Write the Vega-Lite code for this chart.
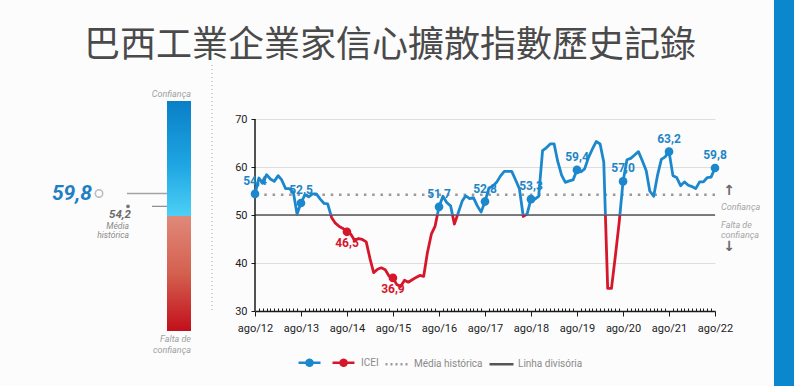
{
  "$schema": "https://vega.github.io/schema/vega-lite/v6.json",
  "background": "#fcfcfd",
  "padding": {"left": 51, "top": 0, "right": 0, "bottom": 0},
  "title": {
    "text": "巴西工業企業家信心擴散指數歷史記錄",
    "font": "Noto Sans CJK TC",
    "fontSize": 36,
    "fontWeight": "normal",
    "color": "#4a4a4a",
    "anchor": "middle",
    "frame": "group",
    "dx": 223,
    "offset": -101,
    "baseline": "bottom"
  },
  "bounds": "flush",
  "spacing": 64,
  "resolve": {"scale": {"color": "independent"}},
  "datasets": {
    "icei": [
      {"mes": "2012-08-01", "valor": 54.4}, {"mes": "2012-09-01", "valor": 57.7}, {"mes": "2012-10-01", "valor": 56.6}, {"mes": "2012-11-01", "valor": 58.4}, {"mes": "2012-12-01", "valor": 57.5},
      {"mes": "2013-01-01", "valor": 57.0}, {"mes": "2013-02-01", "valor": 58.2}, {"mes": "2013-03-01", "valor": 57.3}, {"mes": "2013-04-01", "valor": 55.5}, {"mes": "2013-05-01", "valor": 55.5}, {"mes": "2013-06-01", "valor": 54.8}, {"mes": "2013-07-01", "valor": 50.2}, {"mes": "2013-08-01", "valor": 52.5}, {"mes": "2013-09-01", "valor": 54.2}, {"mes": "2013-10-01", "valor": 53.8}, {"mes": "2013-11-01", "valor": 54.4}, {"mes": "2013-12-01", "valor": 54.4},
      {"mes": "2014-01-01", "valor": 53.3}, {"mes": "2014-02-01", "valor": 52.4}, {"mes": "2014-03-01", "valor": 52.3}, {"mes": "2014-04-01", "valor": 49.5}, {"mes": "2014-05-01", "valor": 48.3}, {"mes": "2014-06-01", "valor": 47.6}, {"mes": "2014-07-01", "valor": 47.2}, {"mes": "2014-08-01", "valor": 46.5}, {"mes": "2014-09-01", "valor": 46.0}, {"mes": "2014-10-01", "valor": 44.7}, {"mes": "2014-11-01", "valor": 45.1}, {"mes": "2014-12-01", "valor": 44.9},
      {"mes": "2015-01-01", "valor": 44.4}, {"mes": "2015-02-01", "valor": 40.8}, {"mes": "2015-03-01", "valor": 38.0}, {"mes": "2015-04-01", "valor": 38.7}, {"mes": "2015-05-01", "valor": 39.0}, {"mes": "2015-06-01", "valor": 38.6}, {"mes": "2015-07-01", "valor": 37.3}, {"mes": "2015-08-01", "valor": 36.9}, {"mes": "2015-09-01", "valor": 35.5}, {"mes": "2015-10-01", "valor": 35.1}, {"mes": "2015-11-01", "valor": 36.4}, {"mes": "2015-12-01", "valor": 36.0},
      {"mes": "2016-01-01", "valor": 36.5}, {"mes": "2016-02-01", "valor": 37.0}, {"mes": "2016-03-01", "valor": 37.4}, {"mes": "2016-04-01", "valor": 37.2}, {"mes": "2016-05-01", "valor": 42.2}, {"mes": "2016-06-01", "valor": 46.0}, {"mes": "2016-07-01", "valor": 47.7}, {"mes": "2016-08-01", "valor": 51.7}, {"mes": "2016-09-01", "valor": 53.9}, {"mes": "2016-10-01", "valor": 52.6}, {"mes": "2016-11-01", "valor": 51.9}, {"mes": "2016-12-01", "valor": 48.1},
      {"mes": "2017-01-01", "valor": 50.5}, {"mes": "2017-02-01", "valor": 52.9}, {"mes": "2017-03-01", "valor": 54.0}, {"mes": "2017-04-01", "valor": 53.4}, {"mes": "2017-05-01", "valor": 53.6}, {"mes": "2017-06-01", "valor": 51.9}, {"mes": "2017-07-01", "valor": 50.6}, {"mes": "2017-08-01", "valor": 52.8}, {"mes": "2017-09-01", "valor": 55.6}, {"mes": "2017-10-01", "valor": 56.0}, {"mes": "2017-11-01", "valor": 56.8}, {"mes": "2017-12-01", "valor": 58.1},
      {"mes": "2018-01-01", "valor": 59.1}, {"mes": "2018-02-01", "valor": 59.1}, {"mes": "2018-03-01", "valor": 59.1}, {"mes": "2018-04-01", "valor": 57.3}, {"mes": "2018-05-01", "valor": 55.5}, {"mes": "2018-06-01", "valor": 49.7}, {"mes": "2018-07-01", "valor": 50.2}, {"mes": "2018-08-01", "valor": 53.3}, {"mes": "2018-09-01", "valor": 53.3}, {"mes": "2018-10-01", "valor": 53.9}, {"mes": "2018-11-01", "valor": 63.4}, {"mes": "2018-12-01", "valor": 64.0},
      {"mes": "2019-01-01", "valor": 64.8}, {"mes": "2019-02-01", "valor": 64.8}, {"mes": "2019-03-01", "valor": 61.2}, {"mes": "2019-04-01", "valor": 58.3}, {"mes": "2019-05-01", "valor": 56.8}, {"mes": "2019-06-01", "valor": 57.1}, {"mes": "2019-07-01", "valor": 57.3}, {"mes": "2019-08-01", "valor": 59.4}, {"mes": "2019-09-01", "valor": 59.0}, {"mes": "2019-10-01", "valor": 59.6}, {"mes": "2019-11-01", "valor": 62.0}, {"mes": "2019-12-01", "valor": 63.7},
      {"mes": "2020-01-01", "valor": 65.3}, {"mes": "2020-02-01", "valor": 64.8}, {"mes": "2020-03-01", "valor": 61.0}, {"mes": "2020-04-01", "valor": 34.7}, {"mes": "2020-05-01", "valor": 34.7}, {"mes": "2020-06-01", "valor": 41.5}, {"mes": "2020-07-01", "valor": 48.4}, {"mes": "2020-08-01", "valor": 57.0}, {"mes": "2020-09-01", "valor": 61.5}, {"mes": "2020-10-01", "valor": 61.8}, {"mes": "2020-11-01", "valor": 62.5}, {"mes": "2020-12-01", "valor": 63.2},
      {"mes": "2021-01-01", "valor": 61.3}, {"mes": "2021-02-01", "valor": 59.2}, {"mes": "2021-03-01", "valor": 55.0}, {"mes": "2021-04-01", "valor": 53.9}, {"mes": "2021-05-01", "valor": 58.2}, {"mes": "2021-06-01", "valor": 61.6}, {"mes": "2021-07-01", "valor": 62.1}, {"mes": "2021-08-01", "valor": 63.2}, {"mes": "2021-09-01", "valor": 58.2}, {"mes": "2021-10-01", "valor": 57.8}, {"mes": "2021-11-01", "valor": 56.1}, {"mes": "2021-12-01", "valor": 56.9},
      {"mes": "2022-01-01", "valor": 56.2}, {"mes": "2022-02-01", "valor": 55.9}, {"mes": "2022-03-01", "valor": 55.5}, {"mes": "2022-04-01", "valor": 56.9}, {"mes": "2022-05-01", "valor": 56.9}, {"mes": "2022-06-01", "valor": 57.8}, {"mes": "2022-07-01", "valor": 57.9}, {"mes": "2022-08-01", "valor": 59.8}
    ],
    "marcadores": [
      {"indicador": "ICEI ago/22", "valor": 59.8},
      {"indicador": "Média histórica", "valor": 54.2}
    ],
    "faixas": [
      {"faixa": "Confiança", "de": 50, "ate": 100},
      {"faixa": "Falta de confiança", "de": 0, "ate": 50}
    ]
  },
  "hconcat": [
    {
      "width": 24,
      "height": 230,
      "layer": [
        {
          "data": {"name": "marcadores"},
          "transform": [{"filter": "datum.indicador === 'ICEI ago/22'"}],
          "mark": {"type": "rule", "color": "#a3a3a3", "strokeWidth": 1.5, "xOffset": -64},
          "encoding": {"y": {"field": "valor", "type": "quantitative", "scale": {"domain": [0, 100], "nice": false}, "axis": null}}
        },
        {
          "data": {"name": "marcadores"},
          "transform": [{"filter": "datum.indicador === 'Média histórica'"}],
          "mark": {"type": "rule", "color": "#8a8a8a", "strokeWidth": 1.2, "xOffset": -39},
          "encoding": {"y": {"field": "valor", "type": "quantitative"}}
        },
        {
          "data": {"name": "faixas"},
          "transform": [{"filter": "datum.faixa === 'Confiança'"}],
          "mark": {"type": "rect", "fill": {"gradient": "linear", "x1": 0, "y1": 0, "x2": 0, "y2": 1, "stops": [{"offset": 0, "color": "#0a7fc7"}, {"offset": 0.55, "color": "#1ea5e2"}, {"offset": 1, "color": "#4cd0f6"}]}},
          "encoding": {
            "y": {"field": "ate", "type": "quantitative", "title": null,
              "axis": {"tickCount": 100, "labelExpr": "datum.value % 50 === 0 ? datum.label : ''", "labelOverlap": false, "labelFontSize": 7, "labelColor": "#a5a5a5", "labelPadding": 3, "domain": false, "grid": false, "tickColor": "#c4c4c4", "tickWidth": 0.8, "tickSize": {"condition": {"test": "datum.value % 10 === 0", "value": 6}, "value": 3}}},
            "y2": {"field": "de"}
          }
        },
        {
          "data": {"name": "faixas"},
          "transform": [{"filter": "datum.faixa === 'Falta de confiança'"}],
          "mark": {"type": "rect", "fill": {"gradient": "linear", "x1": 0, "y1": 0, "x2": 0, "y2": 1, "stops": [{"offset": 0, "color": "#e0897a"}, {"offset": 0.5, "color": "#d4604f"}, {"offset": 1, "color": "#c20f1b"}]}},
          "encoding": {"y": {"field": "ate", "type": "quantitative"}, "y2": {"field": "de"}}
        },
        {
          "data": {"name": "faixas"},
          "transform": [{"filter": "datum.faixa === 'Confiança'"}],
          "mark": {"type": "text", "align": "right", "baseline": "alphabetic", "dy": -4, "xOffset": 12, "fontSize": 9, "fontStyle": "italic", "color": "#a0a0a0"},
          "encoding": {"y": {"field": "ate", "type": "quantitative"}, "text": {"field": "faixa"}}
        },
        {
          "data": {"name": "faixas"},
          "transform": [{"filter": "datum.faixa === 'Falta de confiança'"}],
          "mark": {"type": "text", "align": "right", "baseline": "top", "dy": 4, "xOffset": 12, "fontSize": 9, "fontStyle": "italic", "color": "#a0a0a0", "lineHeight": 11},
          "encoding": {"y": {"field": "de", "type": "quantitative"}, "text": {"value": ["Falta de", "confiança"]}}
        },
        {
          "data": {"name": "marcadores"},
          "transform": [{"filter": "datum.indicador === 'ICEI ago/22'"}],
          "mark": {"type": "point", "shape": "circle", "size": 55, "filled": true, "fill": "#ffffff", "stroke": "#a3a3a3", "strokeWidth": 1.6, "xOffset": -80},
          "encoding": {"y": {"field": "valor", "type": "quantitative"}}
        },
        {
          "data": {"name": "marcadores"},
          "transform": [{"filter": "datum.indicador === 'Média histórica'"}],
          "mark": {"type": "circle", "size": 14, "color": "#777777", "opacity": 1, "xOffset": -51},
          "encoding": {"y": {"field": "valor", "type": "quantitative"}}
        },
        {
          "data": {"name": "marcadores"},
          "transform": [{"filter": "datum.indicador === 'ICEI ago/22'"}],
          "mark": {"type": "text", "align": "right", "baseline": "middle", "xOffset": -87, "dy": 1, "fontSize": 21, "fontWeight": "bold", "fontStyle": "italic", "color": "#1e7fc3"},
          "encoding": {"y": {"field": "valor", "type": "quantitative"}, "text": {"field": "valor", "type": "quantitative", "format": ".1f"}}
        },
        {
          "data": {"name": "marcadores"},
          "transform": [{"filter": "datum.indicador === 'Média histórica'"}],
          "mark": {"type": "text", "align": "right", "baseline": "alphabetic", "xOffset": -48, "dy": 12, "fontSize": 11.5, "fontWeight": "bold", "fontStyle": "italic", "color": "#6a6a6a"},
          "encoding": {"y": {"field": "valor", "type": "quantitative"}, "text": {"field": "valor", "type": "quantitative", "format": ".1f"}}
        },
        {
          "data": {"name": "marcadores"},
          "transform": [{"filter": "datum.indicador === 'Média histórica'"}],
          "mark": {"type": "text", "align": "right", "baseline": "alphabetic", "xOffset": -50, "dy": 23, "fontSize": 8.5, "fontStyle": "italic", "color": "#8a8a8a", "lineHeight": 8.5},
          "encoding": {"y": {"field": "valor", "type": "quantitative"}, "text": {"value": ["Média", "histórica"]}}
        }
      ]
    },
    {
      "width": 460,
      "height": 210,
      "layer": [
        {
          "data": {"values": [{"elemento": "separador"}]},
          "mark": {"type": "rule", "color": "#9aa3ab", "strokeWidth": 1, "strokeDash": [1, 3], "xOffset": -43, "yOffset": -36, "y2Offset": 75},
          "encoding": {"x": {"datum": {"year": 2012, "month": 8, "date": 1, "utc": true}, "type": "temporal"}}
        },
        {
          "data": {"values": [{"serie": "Linha divisória", "valor": 50}]},
          "mark": {"type": "rule", "strokeWidth": 1.5, "x2Offset": 39},
          "encoding": {
            "y": {"field": "valor", "type": "quantitative"},
            "color": {"field": "serie", "type": "nominal",
              "scale": {"domain": ["ICEI confiança", "ICEI", "Média histórica", "Linha divisória"], "range": ["#1b87cc", "#d6172b", "#9a9a9a", "#555555"]},
              "legend": {"orient": "none", "legendX": 19, "legendY": 248, "direction": "horizontal", "title": null, "symbolType": "stroke", "symbolSize": 576, "symbolStrokeWidth": 2.5, "labelFontSize": 10, "labelColor": "#8a8a8a", "labelOffset": 3, "columnPadding": 1,
                "labelExpr": "datum.value === 'ICEI confiança' ? '' : datum.label",
                "encode": {"symbols": {"update": {
                  "shape": {"signal": "datum.value === 'ICEI confiança' ? 'M0.92,0H2.75M1.58,0a0.25,0.25 0 1,0 0.5,0a0.25,0.25 0 1,0 -0.5,0Z' : (datum.value === 'ICEI' ? 'M-1,0H0.83M-0.33,0a0.25,0.25 0 1,0 0.5,0a0.25,0.25 0 1,0 -0.5,0Z' : 'M-1,0H1')"},
                  "strokeDash": {"signal": "datum.value === 'Média histórica' ? [2, 3] : [1, 0]"},
                  "fill": {"signal": "datum.value === 'ICEI confiança' ? '#1b87cc' : (datum.value === 'ICEI' ? '#d6172b' : 'transparent')"},
                  "opacity": {"value": 1}
                }}}
              }
            }
          }
        },
        {
          "data": {"values": [{"serie": "Média histórica", "valor": 54.2}]},
          "mark": {"type": "rule", "strokeWidth": 2.5, "strokeDash": [2.5, 5.8], "x2Offset": 2},
          "encoding": {
            "y": {"field": "valor", "type": "quantitative"},
            "color": {"field": "serie", "type": "nominal",
              "scale": {"domain": ["ICEI confiança", "ICEI", "Média histórica", "Linha divisória"], "range": ["#1b87cc", "#d6172b", "#9a9a9a", "#555555"]},
              "legend": {"orient": "none", "legendX": 19, "legendY": 248, "direction": "horizontal", "title": null, "symbolType": "stroke", "symbolSize": 576, "symbolStrokeWidth": 2.5, "labelFontSize": 10, "labelColor": "#8a8a8a", "labelOffset": 3, "columnPadding": 1,
                "labelExpr": "datum.value === 'ICEI confiança' ? '' : datum.label",
                "encode": {"symbols": {"update": {
                  "shape": {"signal": "datum.value === 'ICEI confiança' ? 'M0.92,0H2.75M1.58,0a0.25,0.25 0 1,0 0.5,0a0.25,0.25 0 1,0 -0.5,0Z' : (datum.value === 'ICEI' ? 'M-1,0H0.83M-0.33,0a0.25,0.25 0 1,0 0.5,0a0.25,0.25 0 1,0 -0.5,0Z' : 'M-1,0H1')"},
                  "strokeDash": {"signal": "datum.value === 'Média histórica' ? [2, 3] : [1, 0]"},
                  "fill": {"signal": "datum.value === 'ICEI confiança' ? '#1b87cc' : (datum.value === 'ICEI' ? '#d6172b' : 'transparent')"},
                  "opacity": {"value": 1}
                }}}
              }
            }
          }
        },
        {
          "data": {"values": [{"elemento": "eixo"}]},
          "mark": {"type": "rule", "color": "#1a1a1a", "strokeWidth": 1.5},
          "encoding": {
            "x": {"datum": {"year": 2012, "month": 8, "date": 1, "utc": true}, "type": "temporal"},
            "y": {"datum": 30},
            "y2": {"datum": 70}
          }
        },
        {
          "data": {"name": "icei"},
          "mark": {"type": "line", "strokeWidth": 2.8, "strokeJoin": "round", "strokeCap": "round",
            "stroke": {"gradient": "linear", "x1": 0, "y1": 0, "x2": 0, "y2": 1, "stops": [{"offset": 0, "color": "#1b87cc"}, {"offset": 0.5, "color": "#1b87cc"}, {"offset": 0.5, "color": "#d6172b"}, {"offset": 1, "color": "#d6172b"}]}},
          "encoding": {
            "x": {"field": "mes", "type": "temporal", "title": null,
              "scale": {"type": "utc", "domain": [{"year": 2012, "month": 8, "date": 1, "utc": true}, {"year": 2022, "month": 8, "date": 1, "utc": true}], "nice": false},
              "axis": {"tickCount": {"interval": "month", "step": 1}, "labelExpr": "utcmonth(datum.value) === 7 ? 'ago/' + utcFormat(datum.value, '%y') : ''", "labelOverlap": false, "labelFlush": false, "labelFontSize": 11, "labelColor": "#222222", "labelPadding": 6, "domainColor": "#1a1a1a", "domainWidth": 1.5, "tickColor": "#1a1a1a", "tickWidth": 1, "tickSize": {"condition": {"test": "utcmonth(datum.value) === 7", "value": 5}, "value": -3}, "grid": false}},
            "y": {"field": "valor", "type": "quantitative", "title": null,
              "scale": {"domain": [30, 73.75], "nice": false, "zero": false},
              "axis": {"values": [30, 40, 50, 60, 70], "domain": false, "grid": true, "gridColor": "#dedede", "gridWidth": 1, "tickSize": 4, "tickColor": "#1a1a1a", "labelFontSize": 11, "labelColor": "#222222", "labelPadding": 4}}
          }
        },
        {
          "data": {"name": "icei"},
          "transform": [{"filter": "utcmonth(datum.mes) === 7"}],
          "mark": {"type": "circle", "size": 75, "opacity": 1},
          "encoding": {
            "x": {"field": "mes", "type": "temporal"},
            "y": {"field": "valor", "type": "quantitative"},
            "color": {"condition": {"test": "datum.valor < 50", "value": "#d6172b"}, "value": "#1b87cc"}
          }
        },
        {
          "data": {"name": "icei"},
          "transform": [{"filter": "utcmonth(datum.mes) === 7 && datum.valor >= 50"}],
          "mark": {"type": "text", "baseline": "bottom", "dy": -6, "fontSize": 12, "fontWeight": "bold", "color": "#1f85c6"},
          "encoding": {
            "x": {"field": "mes", "type": "temporal"},
            "y": {"field": "valor", "type": "quantitative"},
            "text": {"field": "valor", "type": "quantitative", "format": ".1f"}
          }
        },
        {
          "data": {"name": "icei"},
          "transform": [{"filter": "utcmonth(datum.mes) === 7 && datum.valor < 50"}],
          "mark": {"type": "text", "baseline": "top", "dy": 6, "fontSize": 12, "fontWeight": "bold", "color": "#d6172b"},
          "encoding": {
            "x": {"field": "mes", "type": "temporal"},
            "y": {"field": "valor", "type": "quantitative"},
            "text": {"field": "valor", "type": "quantitative", "format": ".1f"}
          }
        },
        {
          "data": {"values": [{"rotulo": "↑"}]},
          "mark": {"type": "text", "align": "center", "baseline": "middle", "xOffset": 244, "dy": -24, "fontSize": 14, "fontWeight": "bold", "font": "DejaVu Sans", "color": "#666666"},
          "encoding": {"y": {"datum": 50}, "text": {"field": "rotulo"}}
        },
        {
          "data": {"values": [{"rotulo": "Confiança"}]},
          "mark": {"type": "text", "align": "left", "baseline": "middle", "xOffset": 236, "dy": -8, "fontSize": 9, "fontStyle": "italic", "color": "#a5a5a5"},
          "encoding": {"y": {"datum": 50}, "text": {"field": "rotulo"}}
        },
        {
          "data": {"values": [{"rotulo": "Falta de confiança"}]},
          "mark": {"type": "text", "align": "left", "baseline": "middle", "xOffset": 236, "dy": 10, "fontSize": 9, "fontStyle": "italic", "color": "#a5a5a5", "lineHeight": 9.5},
          "encoding": {"y": {"datum": 50}, "text": {"value": ["Falta de", "confiança"]}}
        },
        {
          "data": {"values": [{"rotulo": "↓"}]},
          "mark": {"type": "text", "align": "center", "baseline": "middle", "xOffset": 244, "dy": 32, "fontSize": 14, "fontWeight": "bold", "font": "DejaVu Sans", "color": "#666666"},
          "encoding": {"y": {"datum": 50}, "text": {"field": "rotulo"}}
        }
      ]
    },
    {
      "width": 16,
      "height": 285,
      "data": {"values": [{"elemento": "faixa lateral"}]},
      "mark": {"type": "rect", "color": "#0a87cd", "xOffset": -5, "yOffset": -101},
      "encoding": {
        "x": {"value": 0},
        "x2": {"value": "width"},
        "y": {"value": 0},
        "y2": {"value": "height"}
      }
    }
  ],
  "config": {
    "view": {"stroke": null},
    "font": "Roboto",
    "locale": {"number": {"decimal": ",", "thousands": ".", "grouping": [3], "currency": ["R$", ""]}},
    "axis": {"labelFont": "Roboto"},
    "legend": {"labelFont": "Roboto"}
  }
}
